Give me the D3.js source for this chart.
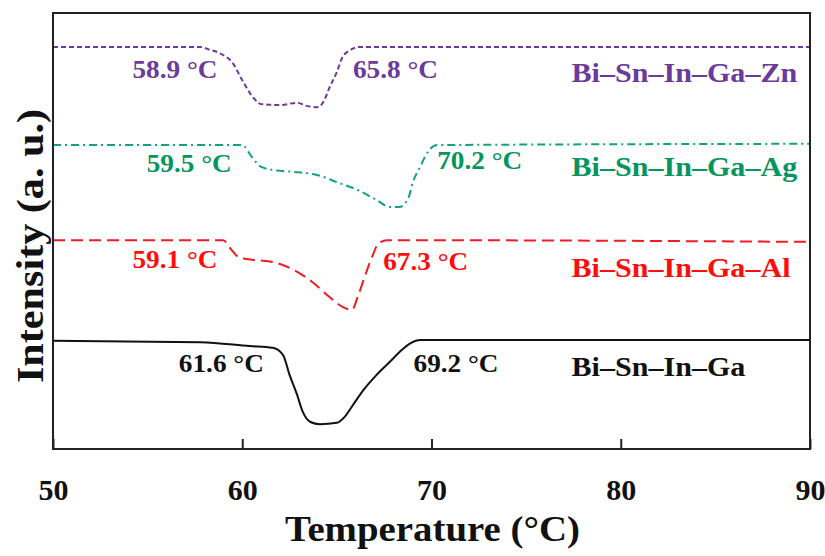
<!DOCTYPE html>
<html>
<head>
<meta charset="utf-8">
<script src="https://cdn.jsdelivr.net/npm/d3@7"></script>
<style>
  body { margin: 0; background: #fff; }
  text { font-family: "Liberation Serif", "Times New Roman", serif; font-weight: bold; }
</style>
</head>
<body>
<svg id="chart" width="825" height="556"></svg>
<script>
// temperatures (°C) and intensities (a. u.)
const znTemp = [50, 57.8, 58.2, 58.8, 59.5, 60.0, 60.6, 61.0, 62.0, 62.9, 63.4, 64.0, 64.3, 64.6, 65.0, 65.3, 65.7, 66.2, 90];
const znVal  = [92.2, 92.2, 91.7, 90.8, 88.5, 84.6, 80.5, 79.1, 78.9, 79.4, 78.7, 78.4, 79.7, 82.8, 86.5, 89.9, 91.5, 92.2, 92.2];

const agTemp = [50, 60.0, 60.5, 61.0, 62.0, 62.9, 64.0, 65.0, 66.1, 67.1, 67.8, 68.3, 68.8, 69.0, 69.4, 69.8, 70.3, 90];
const agVal  = [69.7, 69.7, 67.0, 64.7, 63.8, 63.5, 62.8, 61.2, 59.4, 57.1, 55.5, 55.5, 57.8, 61.0, 64.7, 68.1, 69.7, 70.0];

const alTemp = [50, 59.0, 59.35, 59.9, 60.8, 61.6, 62.7, 63.7, 64.6, 65.3, 65.8, 66.1, 66.5, 66.9, 67.2, 67.65, 90];
const alVal  = [47.9, 47.9, 46.1, 43.8, 43.3, 42.9, 41.1, 38.3, 34.9, 32.6, 31.9, 34.9, 39.9, 44.5, 47.2, 47.9, 47.5];

const baseTemp = [50, 57.8, 60.4, 61.6, 62.15, 62.5, 62.9, 63.2, 63.6, 64.1, 65.0, 65.4, 65.85, 66.4, 67.1, 67.8, 68.3, 68.9, 69.4, 90];
const baseVal  = [24.8, 24.5, 23.6, 23.2, 21.6, 17.0, 12.4, 8.5, 6.2, 5.7, 6.0, 7.3, 10.1, 13.5, 17.0, 20.0, 22.2, 24.3, 25.0, 25.0];

const xTicks = [50, 60, 70, 80, 90];

// onset / end temperature annotations: [text, x °C, y a.u.]
const znNotes = [["58.9 °C", 54.2, 85.1], ["65.8 °C", 65.85, 85.1]];
const agNotes = [["59.5 °C", 54.95, 63.5], ["70.2 °C", 70.3, 64.2]];
const alNotes = [["59.1 °C", 54.2, 41.5], ["67.3 °C", 67.45, 41.0]];
const baseNotes = [["61.6 °C", 56.65, 17.7], ["69.2 °C", 69.05, 17.7]];

const seriesNames = ["Bi–Sn–In–Ga–Zn", "Bi–Sn–In–Ga–Ag", "Bi–Sn–In–Ga–Al", "Bi–Sn–In–Ga"];
const labelY = [84.2, 62.6, 39.5, 16.7];

const margin = {top: 13, right: 15, bottom: 107, left: 53};
const width = 825 - margin.left - margin.right;
const height = 556 - margin.top - margin.bottom;
const stretch = 1.09;   // the original lettering is a bit wider than Times

const svg = d3.select("#chart");
const g = svg.append("g")
    .attr("transform", "translate(" + margin.left + "," + margin.top + ")");

const x = d3.scaleLinear().domain([50, 90]).range([0, width]);
const y = d3.scaleLinear().domain([0, 100]).range([height, 0]);

const series = [
    {temp: znTemp, val: znVal, color: "#6b3a9b", dash: "5,3", notes: znNotes},
    {temp: agTemp, val: agVal, color: "#14a27a", dash: "8,4,2,4", notes: agNotes},
    {temp: alTemp, val: alVal, color: "#f01c24", dash: "12,6", notes: alNotes},
    {temp: baseTemp, val: baseVal, color: "#111111", dash: null, notes: baseNotes}
];
const textColors = ["#6b3a9b", "#06955f", "#ff0d0d", "#111111"];

const line = d3.line()
    .x(d => x(d[0]))
    .y(d => y(d[1]))
    .curve(d3.curveMonotoneX);

series.forEach((s, i) => {
    const pts = s.temp.map((t, j) => [t, s.val[j]]);
    g.append("path")
        .datum(pts)
        .attr("fill", "none")
        .attr("stroke", s.color)
        .attr("stroke-width", 2)
        .attr("stroke-dasharray", s.dash)
        .attr("d", line);

    g.selectAll(null)
        .data(s.notes)
        .enter()
        .append("text")
        .attr("transform", d => `translate(${x(d[1])},${y(d[2])}) scale(${stretch},1)`)
        .attr("fill", textColors[i])
        .attr("font-size", 25)
        .text(d => d[0]);

    g.append("text")
        .attr("transform", `translate(${x(77.4)},${y(labelY[i])}) scale(1.075,1)`)
        .attr("fill", textColors[i])
        .attr("font-size", 28)
        .text(seriesNames[i]);
});

// x axis, ticks pointing inward
const xAxis = g.append("g")
    .attr("transform", `translate(0, ${height})`)
    .call(d3.axisBottom(x).tickValues(xTicks).tickSizeInner(-10).tickSizeOuter(0).tickPadding(30));
xAxis.select(".domain").remove();
xAxis.selectAll("line").attr("stroke", "#222").attr("stroke-width", 2);
xAxis.selectAll("text")
    .attr("font-family", "Liberation Serif")
    .attr("font-weight", "bold")
    .attr("font-size", 30)
    .attr("fill", "#111");

// frame
g.append("rect")
    .attr("width", width)
    .attr("height", height)
    .attr("fill", "none")
    .attr("stroke", "#222")
    .attr("stroke-width", 2);

svg.append("text")
    .attr("transform", `translate(${margin.left + width / 2 + 1}, 541) scale(1.11,1)`)
    .attr("text-anchor", "middle")
    .attr("font-size", 35)
    .attr("fill", "#111")
    .text("Temperature (°C)");

svg.append("text")
    .attr("transform", "translate(43, 246) rotate(-90) scale(1.11,1)")
    .attr("text-anchor", "middle")
    .attr("font-size", 38)
    .attr("fill", "#111")
    .text("Intensity (a. u.)");
</script>
</body>
</html>
